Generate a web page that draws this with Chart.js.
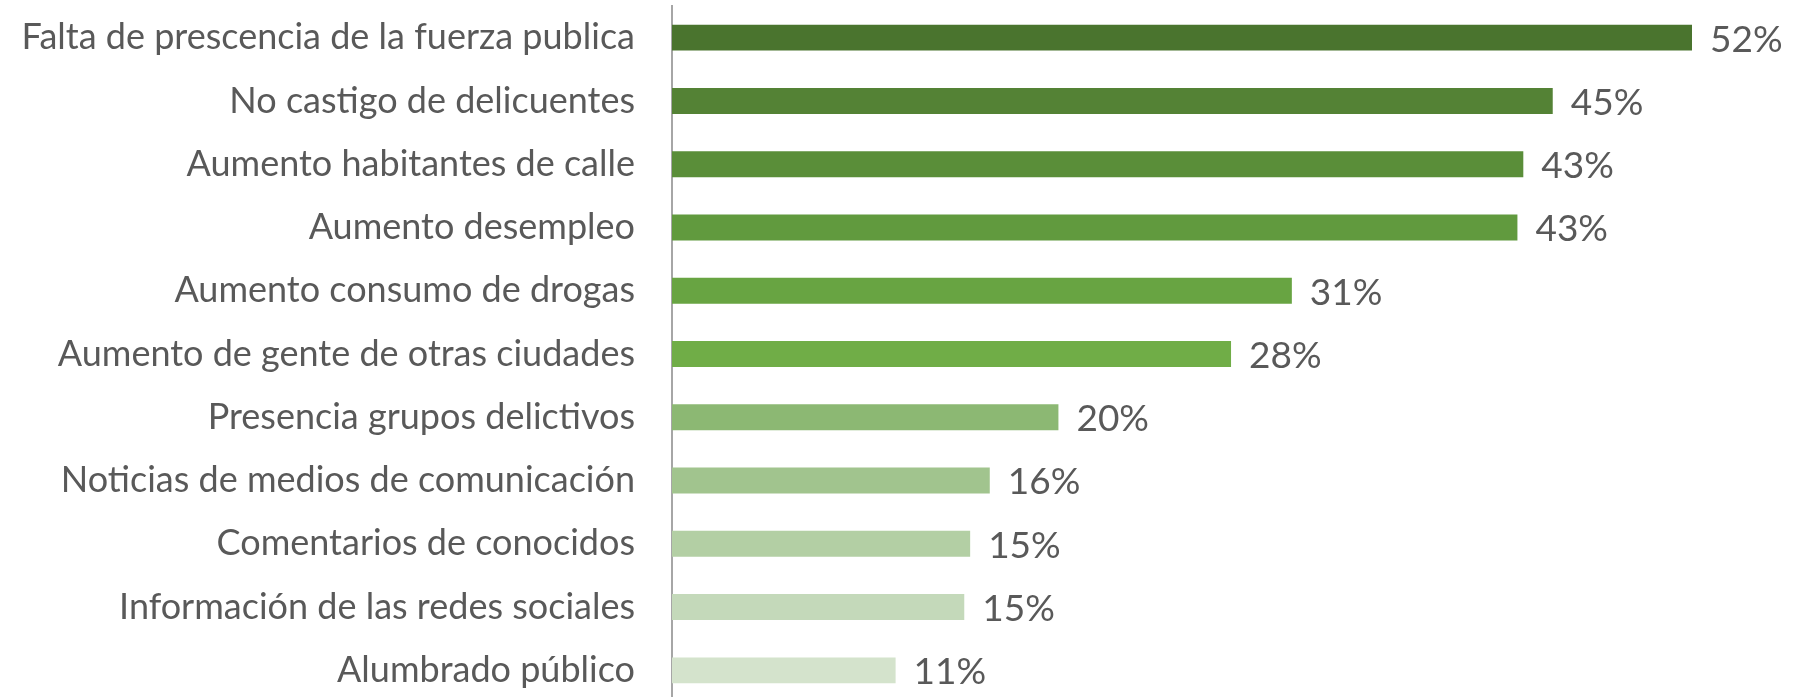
<!DOCTYPE html>
<html>
<head>
<meta charset="utf-8">
<script src="https://cdn.jsdelivr.net/npm/chart.js@4/dist/chart.umd.min.js"></script>
<style>
  html, body { margin: 0; padding: 0; background: #fff; overflow: hidden; }
  canvas { display: block; }
</style>
</head>
<body>
<canvas id="chart" width="1794" height="702"></canvas>
<script>
const categories = [
  "Falta de prescencia de la fuerza publica",
  "No castigo de delicuentes",
  "Aumento habitantes de calle",
  "Aumento desempleo",
  "Aumento consumo de drogas",
  "Aumento de gente de otras ciudades",
  "Presencia grupos delictivos",
  "Noticias de medios de comunicación",
  "Comentarios de conocidos",
  "Información de las redes sociales",
  "Alumbrado público"
];
const values = [52.0, 44.9, 43.4, 43.1, 31.6, 28.5, 19.7, 16.2, 15.2, 14.9, 11.4];
const valueLabels = ["52%", "45%", "43%", "43%", "31%", "28%", "20%", "16%", "15%", "15%", "11%"];
const barColors = [
  "#4a742e", "#548235", "#5a8e39", "#619a3e", "#68a442", "#70ad47",
  "#8cb873", "#a1c48e", "#b3cfa4", "#c4d9ba", "#d4e3cc"
];

const textColor = "#595959";
const fontFamily = "Lato, 'Open Sans', sans-serif";

// draws the % next to each bar
const barLabels = {
  id: "barLabels",
  afterDatasetsDraw(chart) {
    const ctx = chart.ctx;
    const meta = chart.getDatasetMeta(0);
    ctx.save();
    ctx.fillStyle = textColor;
    ctx.font = "37px " + fontFamily;
    ctx.textAlign = "left";
    ctx.textBaseline = "middle";
    meta.data.forEach((bar, i) => {
      ctx.fillText(valueLabels[i], bar.x + 18, bar.y + 2);
    });
    ctx.restore();
  }
};

new Chart(document.getElementById("chart"), {
  type: "bar",
  data: {
    labels: categories,
    datasets: [{
      data: values,
      backgroundColor: barColors,
      categoryPercentage: 1,
      barPercentage: 0.41
    }]
  },
  options: {
    indexAxis: "y",
    responsive: false,
    animation: false,
    layout: { padding: { top: 6, right: 0, bottom: 0, left: 0 } },
    plugins: {
      legend: { display: false },
      tooltip: { enabled: false }
    },
    scales: {
      x: {
        display: false,
        min: 0,
        max: 57.2
      },
      y: {
        grid: { display: false, drawTicks: false },
        border: { display: true, color: "#a6a6a6", width: 2 },
        ticks: {
          color: textColor,
          font: { family: fontFamily, size: 36 },
          padding: 37
        },
        afterFit(scale) {
          scale.width = 672;
          scale.paddingTop = 0;
          scale.paddingBottom = 0;
        }
      }
    }
  },
  plugins: [barLabels]
});
</script>
</body>
</html>
